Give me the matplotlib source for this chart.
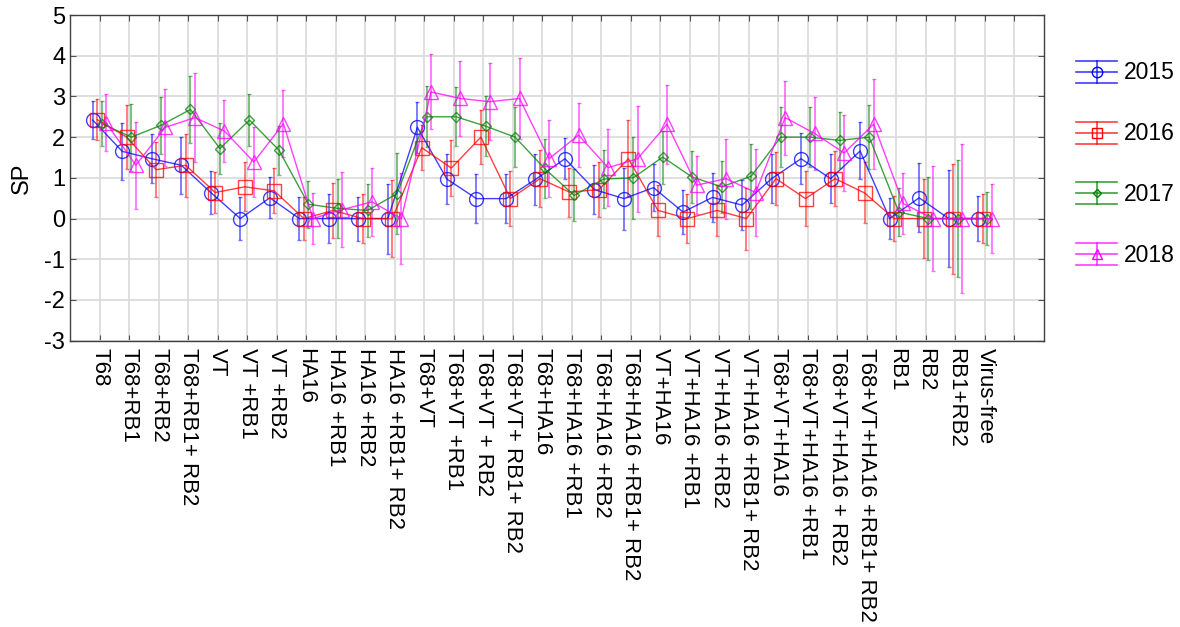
import numpy as np
import matplotlib
matplotlib.use('Agg')
import matplotlib.pyplot as plt
from matplotlib.lines import Line2D
from matplotlib.legend_handler import HandlerBase

plt.rcParams['font.family'] = ['Liberation Sans', 'DejaVu Sans']
plt.rcParams['axes.unicode_minus'] = False

categories = ['T68', 'T68+RB1', 'T68+RB2', 'T68+RB1+ RB2', 'VT', 'VT +RB1', 'VT +RB2',
              'HA16', 'HA16 +RB1', 'HA16 +RB2', 'HA16 +RB1+ RB2', 'T68+VT',
              'T68+VT +RB1', 'T68+VT + RB2', 'T68+VT+ RB1+ RB2', 'T68+HA16',
              'T68+HA16 +RB1', 'T68+HA16 +RB2', 'T68+HA16 +RB1+ RB2', 'VT+HA16',
              'VT+HA16 +RB1', 'VT+HA16 +RB2', 'VT+HA16 +RB1+ RB2', 'T68+VT+HA16',
              'T68+VT+HA16 +RB1', 'T68+VT+HA16 + RB2', 'T68+VT+HA16 +RB1+ RB2',
              'RB1', 'RB2', 'RB1+RB2', 'Virus-free']

years = ['2015', '2016', '2017', '2018']

sp_2015 = [2.42, 1.65, 1.47, 1.31, 0.64, 0.0, 0.51, 0.0, 0.0, 0.0, 0.0, 2.24, 0.97, 0.49, 0.49,
           0.96, 1.47, 0.71, 0.49, 0.76, 0.16, 0.52, 0.33, 0.98, 1.47, 0.98, 1.66, 0.0, 0.51, 0.0, 0.0]
err_2015 = [0.46, 0.70, 0.60, 0.70, 0.52, 0.53, 0.50, 0.53, 0.60, 0.54, 0.86, 0.63, 0.61, 0.60, 0.60,
            0.62, 0.51, 0.60, 0.76, 0.58, 0.54, 0.61, 0.62, 0.60, 0.62, 0.61, 0.70, 0.50, 0.85, 1.20, 0.55]

sp_2016 = [2.43, 2.00, 1.20, 1.31, 0.64, 0.78, 0.68, 0.0, 0.20, 0.0, 0.0, 1.74, 1.24, 2.00, 0.49,
           0.98, 0.65, 0.71, 1.47, 0.20, 0.0, 0.20, 0.0, 0.98, 0.49, 0.98, 0.63, 0.0, 0.0, 0.0, 0.0]
err_2016 = [0.50, 0.78, 0.67, 0.77, 0.50, 0.60, 0.55, 0.52, 0.67, 0.60, 0.94, 0.55, 0.68, 0.67, 0.68,
            0.70, 0.60, 0.67, 0.95, 0.62, 0.60, 0.62, 0.76, 0.65, 0.68, 0.67, 0.75, 0.55, 0.96, 1.35, 0.60]

sp_2017 = [2.33, 2.00, 2.29, 2.68, 1.72, 2.42, 1.68, 0.35, 0.25, 0.20, 0.61, 2.50, 2.50, 2.27, 2.00,
           1.23, 0.57, 0.97, 1.00, 1.51, 1.02, 0.78, 1.04, 2.00, 2.00, 1.92, 2.00, 0.16, 0.0, 0.0, 0.0]
err_2017 = [0.55, 0.82, 0.70, 0.83, 0.62, 0.64, 0.60, 0.58, 0.73, 0.65, 1.00, 0.75, 0.72, 0.74, 0.73,
            0.72, 0.64, 0.72, 1.00, 0.65, 0.64, 0.64, 0.80, 0.73, 0.73, 0.69, 0.78, 0.58, 1.02, 1.44, 0.66]

sp_2018 = [2.35, 1.31, 2.24, 2.48, 2.15, 1.39, 2.33, 0.0, 0.22, 0.41, 0.0, 3.11, 2.95, 2.87, 2.95,
           1.47, 2.05, 1.25, 1.47, 2.32, 0.82, 0.98, 0.64, 2.48, 2.09, 1.61, 2.32, 0.37, 0.0, 0.0, 0.0]
err_2018 = [0.70, 1.07, 0.95, 1.10, 0.75, 0.86, 0.83, 0.63, 0.93, 0.84, 1.12, 0.92, 0.92, 0.95, 1.00,
            0.95, 0.78, 0.94, 1.30, 0.97, 0.72, 0.98, 1.07, 0.91, 0.89, 0.93, 1.10, 0.75, 1.30, 1.84, 0.84]

means = [sp_2015, sp_2016, sp_2017, sp_2018]
errs = [err_2015, err_2016, err_2017, err_2018]
colors = ['#0000ff', '#ff0000', '#008000', '#ff00ff']
markers = ['o', 's', 'D', '^']
msizes = [10, 10, 5, 10]
offsets = [-0.23, -0.08, 0.08, 0.23]


class CapHandler(HandlerBase):
    # legend handle with caps across the whole width, like the original software
    def create_artists(self, legend, orig_handle, xdescent, ydescent,
                       width, height, fontsize, trans):
        c = orig_handle.get_color()
        x0, x1 = -xdescent, width - xdescent
        y0, y1 = -ydescent, height - ydescent
        yc = (y0 + y1) / 2
        xc = (x0 + x1) / 2
        kw = dict(color=c, lw=1.2, alpha=0.75, transform=trans)
        arts = [Line2D([x0, x1], [yc, yc], **kw),
                Line2D([x0, x1], [y0, y0], **kw),
                Line2D([x0, x1], [y1, y1], **kw),
                Line2D([xc, xc], [y0, y1], **kw),
                Line2D([xc], [yc], marker=orig_handle.get_marker(),
                       markersize=orig_handle.get_markersize() * 0.75,
                       mfc='none', mec=c, mew=1.0, transform=trans)]
        return arts


fig = plt.figure(figsize=(11.8, 6.27), dpi=100)
ax = fig.add_axes([70 / 1180, 1 - 340.7 / 627, 974 / 1180, 325.7 / 627])

x = np.arange(1, len(categories) + 1)
handles = []
for i in range(4):
    xi = x + offsets[i]
    ax.errorbar(xi, means[i], yerr=errs[i], fmt='none', ecolor=colors[i],
                elinewidth=1.3, capsize=1.2, capthick=1.0, alpha=0.55, zorder=3)
    ax.plot(xi, means[i], color=colors[i], lw=1.0, alpha=0.75, marker=markers[i],
            ms=msizes[i], mfc='none', mec=colors[i], mew=1.0, zorder=4)
    handles.append(Line2D([], [], color=colors[i], marker=markers[i], ms=msizes[i]))

ax.set_xlim(0, 33)
ax.set_ylim(-3, 5)
ax.set_xticks(np.arange(1, 33))
ax.set_xticklabels(categories + [''], rotation=-90, ha='center', va='top', fontsize=16)
ax.set_yticks(np.arange(-3, 6))
ax.tick_params(axis='y', labelsize=17)
ax.tick_params(direction='in', length=4, width=0.8, color='#505050',
               top=True, right=True, bottom=True, left=True)
ax.tick_params(axis='x', pad=5)
ax.grid(True, color='#dcdcdc', lw=1.3)
ax.set_axisbelow(True)
for s in ax.spines.values():
    s.set_color('#404040')
    s.set_linewidth(1.0)
ax.set_ylabel('SP', fontsize=17, labelpad=8)

ax.legend(handles, years, handler_map={Line2D: CapHandler()}, loc='upper left',
          bbox_to_anchor=(1.033, 0.86), frameon=False, fontsize=16.5,
          handlelength=1.8, handleheight=1.1, handletextpad=0.3,
          labelspacing=1.62, borderpad=0, borderaxespad=0)

fig.savefig('out.png', dpi=100)
plt.close(fig)
